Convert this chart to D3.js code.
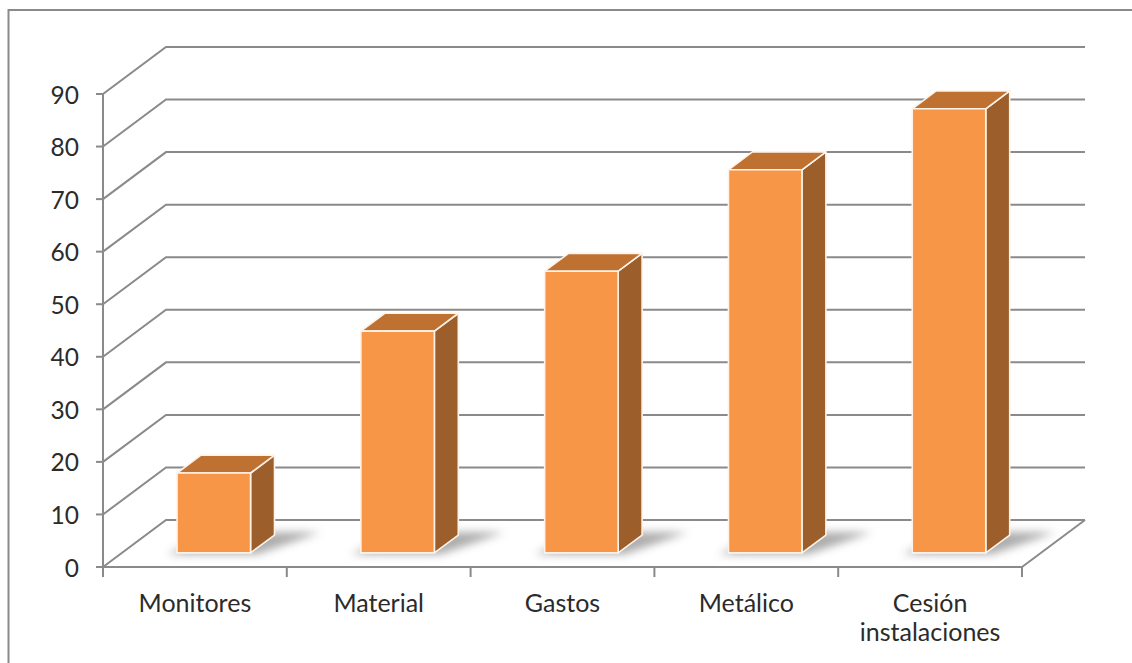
<!DOCTYPE html>
<html>
<head>
<meta charset="utf-8">
<script src="https://cdn.jsdelivr.net/npm/d3@7"></script>
<style>
  html, body { margin: 0; padding: 0; background: #fff; }
  svg { display: block; }
  text { font-family: Lato, "Noto Sans", sans-serif; fill: #2b2b2b; }
</style>
</head>
<body>
<svg id="chart" width="1132" height="663"></svg>
<script>
// Chart data
const categories = ["Monitores", "Material", "Gastos", "Metálico", "Cesión instalaciones"];
const values = [15.2, 42.2, 53.6, 72.9, 84.5];
const yTicks = [0, 10, 20, 30, 40, 50, 60, 70, 80, 90];

const W = 1132, H = 663;
const svg = d3.select("#chart");

// Plot geometry (front plane of the 3-D box)
const x0 = 103, x1 = 1022, yBottom = 567, yTop = 94;
const depthDX = 63, depthDY = -47;

const y = d3.scaleLinear().domain([0, 90]).range([yBottom, yTop]);
const xCat = d3.scaleBand().domain(categories).range([x0, x1]).padding(0);
const xBar = d3.scaleBand().domain(categories).range([x0, x1])
  .paddingInner(0.6).paddingOuter(0.3);
const dX = d3.scaleLinear().domain([0, 1]).range([0, depthDX]);
const dY = d3.scaleLinear().domain([0, 1]).range([0, depthDY]);

// oblique projection: floor x, value, depth fraction
const proj = (px, v, f) => [px + dX(f), y(v) + dY(f)];
const line = d3.line();

const gray = "#8a8a8a";

// outer frame
svg.append("rect")
  .attr("x", 8.5).attr("y", 10).attr("width", W + 20).attr("height", H + 20)
  .attr("fill", "none").attr("stroke", gray).attr("stroke-width", 2);

// back-wall gridlines with the side-wall diagonal
const grid = svg.append("g").attr("fill", "none").attr("stroke", gray).attr("stroke-width", 2);
yTicks.forEach(t => {
  grid.append("path").attr("d", line([proj(x0, t, 0), proj(x0, t, 1), proj(x1, t, 1)]));
});
// floor right edge
grid.append("path").attr("d", line([proj(x1, 0, 1), proj(x1, 0, 0)]));

// soft shadows on the floor
const defs = svg.append("defs");
defs.append("filter").attr("id", "shadowBlur")
  .attr("x", "-50%").attr("y", "-50%").attr("width", "200%").attr("height", "200%")
  .append("feGaussianBlur").attr("stdDeviation", 4.5);

const f0 = 0.3, f1 = 0.68;
const bars = categories.map((c, i) => ({ c, v: values[i], xl: xBar(c), xr: xBar(c) + xBar.bandwidth() }));

svg.append("g").selectAll("path").data(bars).join("path")
  .attr("d", b => line([
    proj(b.xl - 8, 0, f0 - 0.03),
    proj(b.xr + 8, 0, f0 - 0.03),
    proj(b.xr + 42, 0, f1 + 0.06),
    proj(b.xl + 12, 0, f1 + 0.06)
  ]) + "Z")
  .attr("fill", "#5a5a5a").attr("opacity", 0.5)
  .attr("filter", "url(#shadowBlur)");

// 3-D columns
const barG = svg.append("g").attr("stroke", "#fdf3ea").attr("stroke-width", 1.6)
  .attr("stroke-linejoin", "round");
const bar = barG.selectAll("g").data(bars).join("g");
// side face
bar.append("path")
  .attr("d", b => line([proj(b.xr, 0, f0), proj(b.xr, b.v, f0), proj(b.xr, b.v, f1), proj(b.xr, 0, f1)]) + "Z")
  .attr("fill", "#9c5f2b");
// top face
bar.append("path")
  .attr("d", b => line([proj(b.xl, b.v, f0), proj(b.xr, b.v, f0), proj(b.xr, b.v, f1), proj(b.xl, b.v, f1)]) + "Z")
  .attr("fill", "#bf7132");
// front face
bar.append("path")
  .attr("d", b => line([proj(b.xl, 0, f0), proj(b.xr, 0, f0), proj(b.xr, b.v, f0), proj(b.xl, b.v, f0)]) + "Z")
  .attr("fill", "#f79646");

// value axis
const axisG = svg.append("g").attr("stroke", gray).attr("stroke-width", 2).attr("fill", "none");
axisG.append("path").attr("d", line([[x0, y(0) + 1], [x0, y(90)]]));
yTicks.forEach(t => {
  axisG.append("path").attr("d", line([[x0 - 7, y(t)], [x0, y(t)]]));
});
svg.append("g").selectAll("text").data(yTicks).join("text")
  .attr("x", 79).attr("y", t => y(t))
  .attr("text-anchor", "end").attr("dominant-baseline", "central")
  .attr("font-size", 24.5)
  .text(d => d);

// category axis
axisG.append("path").attr("d", line([[x0, yBottom], [x1, yBottom]]));
const catTicks = categories.map(c => xCat(c)).concat([x1]);
catTicks.forEach(tx => {
  axisG.append("path").attr("d", line([[tx, yBottom], [tx, yBottom + 10]]));
});

const labels = svg.append("g").selectAll("text").data(categories).join("text")
  .attr("text-anchor", "middle")
  .attr("font-size", 25)
  .attr("x", c => xCat(c) + xCat.bandwidth() / 2)
  .attr("y", 612);
labels.each(function (c) {
  const words = c.split(" ");
  const t = d3.select(this);
  words.forEach((w, k) => {
    t.append("tspan")
      .attr("x", xCat(c) + xCat.bandwidth() / 2)
      .attr("dy", k === 0 ? 0 : 29)
      .text(w);
  });
});
</script>
</body>
</html>
